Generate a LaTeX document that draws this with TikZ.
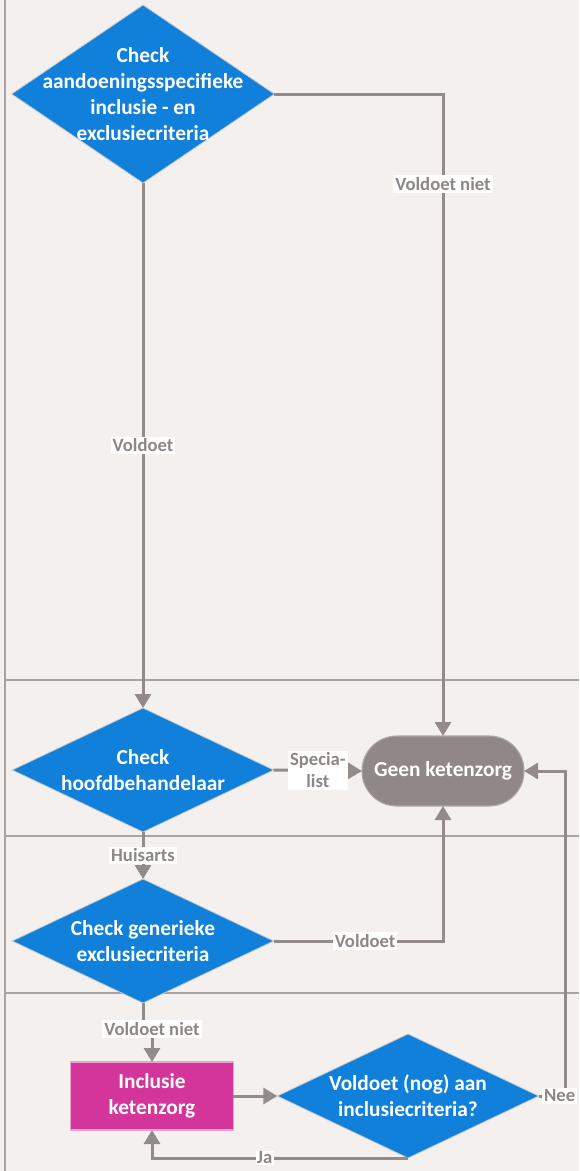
\documentclass[tikz,border=0pt]{standalone}
\usepackage{fontspec}
\setmainfont{Carlito}
\usetikzlibrary{calc,shapes.geometric,arrows.meta}
\definecolor{lanebg}{HTML}{F3F0ED}
\definecolor{laneline}{HTML}{A8A2A0}
\definecolor{flowblue}{HTML}{1180DA}
\definecolor{diamondedge}{HTML}{C4C8CC}
\definecolor{inclpink}{HTML}{D4359B}
\definecolor{incledge}{HTML}{E6A3CC}
\definecolor{endgray}{HTML}{8F8886}
\definecolor{endedge}{HTML}{B0AAA8}
\definecolor{linegray}{HTML}{928B89}
\definecolor{labelgray}{HTML}{8D8785}

\begin{document}
\begin{tikzpicture}[x=0.75pt,y=-0.75pt,
	decision/.style={diamond, draw=diamondedge, line width=0.6pt, fill=flowblue, inner sep=0pt, outer sep=0pt, minimum width=196pt, minimum height=93pt},
	dtext/.style={text=white, font=\fontsize{16}{19.5}\selectfont\bfseries, align=center},
	flow/.style={draw=linegray, line width=2.25pt, -{Triangle[width=12pt,length=10.5pt]}},
	lbl/.style={fill=white, text=labelgray, font=\fontsize{14}{16.5}\selectfont\bfseries, inner sep=1.5pt, align=center}]
			%%%%% START %%%%%
			
			\useasboundingbox (0, 0) rectangle (579, 1171);
			\fill[lanebg] (0, 0) rectangle (579, 1171);
			
			% lanes
			\draw[line width=1.5pt, color=laneline] (4.5, 0) -- (4.5, 1171);
			\draw[line width=1.5pt, color=laneline] (4.5, 680) -- (579, 680);
			\draw[line width=1.5pt, color=laneline] (4.5, 836) -- (579, 836);
			\draw[line width=1.5pt, color=laneline] (4.5, 993) -- (579, 993);
			
			% shapes
			\node[decision, minimum width=197pt, minimum height=133.5pt,
				label={[dtext]center:Check\\aandoeningsspecifieke\\inclusie - en\\exclusiecriteria}] (d1) at (143, 94) {};
			\node[decision, label={[dtext]center:Check\\hoofdbehandelaar}] (d2) at (143, 770) {};
			\node[decision, label={[dtext]center:Check generieke\\exclusiecriteria}] (d3) at (143, 941) {};
			\node[decision, label={[dtext]center:Voldoet (nog) aan\\inclusiecriteria?}] (d4) at (408, 1096) {};
			
			\node[rectangle, rounded corners=26pt, draw=endedge, line width=0.8pt, fill=endgray, outer sep=0pt,
				minimum width=121.5pt, minimum height=52.5pt, dtext] (geen) at (443, 771) {Geen ketenzorg};
			\node[rectangle, draw=incledge, line width=0.8pt, fill=inclpink, outer sep=0pt,
				minimum width=122pt, minimum height=51pt, dtext] (incl) at (152, 1096) {Inclusie\\ketenzorg};
			
			% connectors
			\draw[flow] (d1.east) -| node[lbl, pos=0.57] {Voldoet niet} (geen.north);
			\draw[flow] (d1.south) -- node[lbl] {Voldoet} (d2.north);
			\draw[flow] (d2.east) -- node[lbl] {Specia-\\list} (geen.west);
			\draw[flow] (d2.south) -- node[lbl] {Huisarts} (d3.north);
			\draw[flow] (d3.east) -| node[lbl, pos=0.27] {Voldoet} (geen.south);
			\draw[flow] (d3.south) |- ($(incl.north)+(0,-33)$) node[lbl] {Voldoet niet} -- (incl.north);
			\draw[flow] (incl.east) -- (d4.west);
			\draw[flow] (d4.east) -- ++(27, 0) node[lbl, pos=0.78] {Nee} |- (geen.east);
			\draw[flow] (d4.south) -| node[lbl, pos=0.28, inner sep=1pt] {Ja} (incl.south);
			
			%%%%% END %%%%%
\end{tikzpicture}
\end{document}
